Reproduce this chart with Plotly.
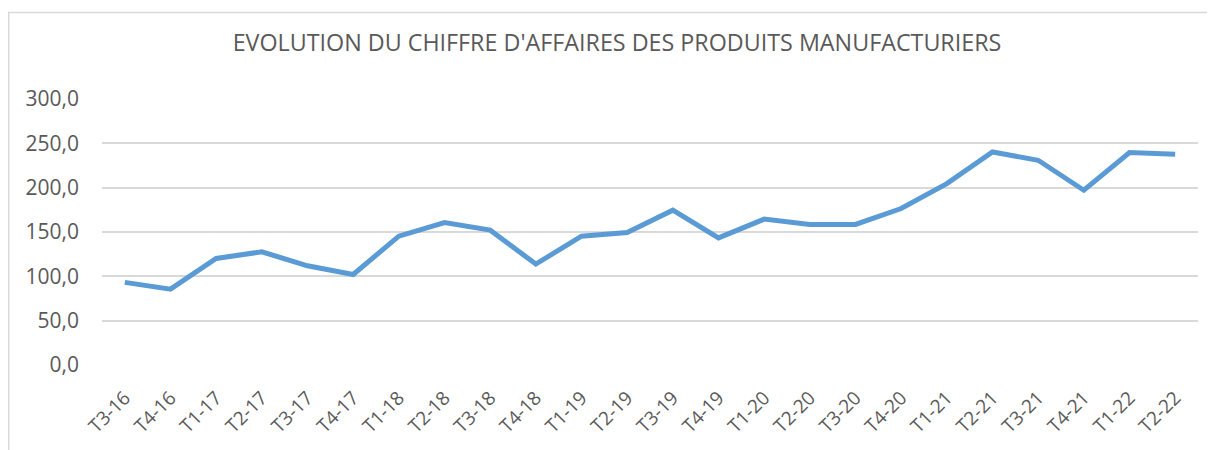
import plotly.graph_objects as go

categories = ["T3-16", "T4-16", "T1-17", "T2-17", "T3-17", "T4-17", "T1-18", "T2-18",
              "T3-18", "T4-18", "T1-19", "T2-19", "T3-19", "T4-19", "T1-20", "T2-20",
              "T3-20", "T4-20", "T1-21", "T2-21", "T3-21", "T4-21", "T1-22", "T2-22"]
values = [93.2, 85.6, 120.2, 127.7, 111.9, 102.1, 145.3, 160.7,
          152.1, 113.8, 145.3, 149.4, 174.6, 143.4, 164.5, 158.5,
          158.5, 176.5, 204.6, 240.3, 230.9, 197.1, 239.6, 237.7]
y_ticks = [0, 50, 100, 150, 200, 250, 300]
y_tick_labels = ["0,0", "50,0", "100,0", "150,0", "200,0", "250,0", "300,0"]
title_text = "EVOLUTION DU CHIFFRE D'AFFAIRES DES PRODUITS MANUFACTURIERS"

FONT = "Open Sans"
GREY = "#595959"

fig = go.Figure()
fig.add_trace(go.Scatter(
    x=categories, y=values, mode="lines",
    line=dict(color="#5B9BD5", width=5),
    hoverinfo="x+y",
))

# page body has an 8px margin; the figure is sized to fill the rest of the window
OFF = 8
W, H = 1215 - OFF, 450 - OFF
L, R, T, B = 102 - OFF, 1215 - 1198, 99 - OFF, 450 - 365
pw, ph = W - L - R, H - T - B

fig.update_layout(
    width=W, height=H,
    margin=dict(l=L, r=R, t=T, b=B, autoexpand=False),
    paper_bgcolor="white", plot_bgcolor="white",
    showlegend=False,
    font=dict(family=FONT, color=GREY),
    title=dict(text=title_text, x=(617 - OFF) / W, xanchor="center",
               y=1 - (43 - OFF) / H, yanchor="middle",
               font=dict(family=FONT, size=23.3, color=GREY)),
    xaxis=dict(
        type="category", range=[-0.5, len(categories) - 0.5],
        showgrid=False, zeroline=False, showline=False,
        tickangle=-45, tickfont=dict(family=FONT, size=19, color=GREY),
        ticks="", automargin=False, ticklabelstandoff=17,
    ),
    yaxis=dict(
        range=[0, 300], tickvals=y_ticks, ticktext=y_tick_labels,
        showgrid=True, gridcolor="#D9D9D9", gridwidth=1.5,
        zeroline=False, showline=False, ticks="",
        tickfont=dict(family=FONT, size=21, color=GREY),
        ticklabelstandoff=22, automargin=False,
    ),
    shapes=[dict(
        type="rect", xref="paper", yref="paper",
        x0=(0.75 - L) / pw, x1=(W + 5 - L) / pw,
        y0=-(B + 10) / ph, y1=(H - (12.5 - OFF) - B) / ph,
        line=dict(color="#D9D9D9", width=1.5), fillcolor="rgba(0,0,0,0)",
        layer="below",
    )],
)

fig.write_html("out.html")
